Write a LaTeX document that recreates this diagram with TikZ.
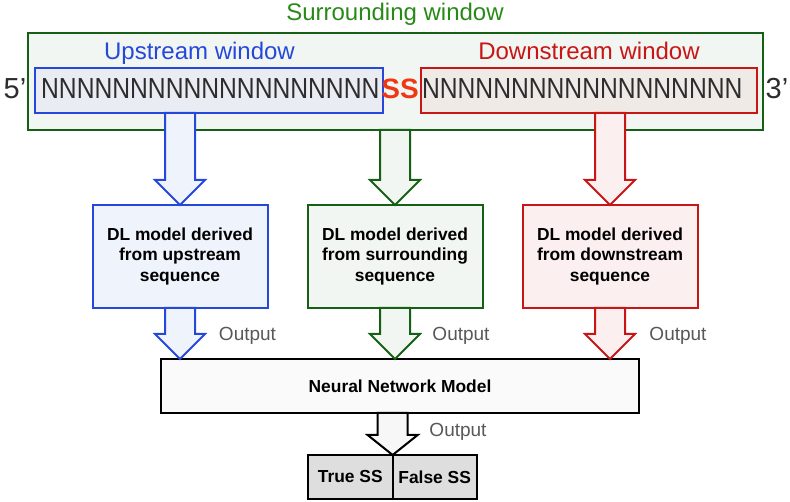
\documentclass[tikz,border=0pt]{standalone}
\usepackage{fontspec}
\usepackage{graphicx}
\usepackage{tikz}
\usepackage{xcolor}
\setmainfont{Liberation Sans}
\usetikzlibrary{positioning,calc}

\definecolor{upblue}{RGB}{38,72,218}
\definecolor{upfill}{RGB}{233,237,243}
\definecolor{upbox}{RGB}{239,243,252}
\definecolor{surgreen}{RGB}{22,96,22}
\definecolor{surtext}{RGB}{40,138,22}
\definecolor{surfill}{RGB}{242,246,242}
\definecolor{downred}{RGB}{200,22,22}
\definecolor{downfill}{RGB}{240,234,231}
\definecolor{downbox}{RGB}{251,240,239}
\definecolor{ssred}{RGB}{240,55,20}
\definecolor{ntext}{RGB}{45,45,45}
\definecolor{outgray}{RGB}{88,88,88}
\definecolor{resfill}{RGB}{222,222,222}

\tikzset{
  winbox/.style={draw,line width=2pt,inner sep=0pt,outer sep=0pt,minimum height=45pt},
  winlbl/.style={anchor=base,inner sep=0pt,font=\fontsize{24}{28}\selectfont},
  dlbox/.style={draw,line width=2pt,inner sep=0pt,outer sep=0pt,minimum width=175pt,minimum height=103pt,
    align=center,font=\fontsize{17.4}{20.7}\selectfont\bfseries},
  seqtxt/.style={inner sep=0pt,text=ntext,font=\fontsize{29}{34}\selectfont},
  outlbl/.style={anchor=base,inner sep=0pt,text=outgray,font=\fontsize{19}{22}\selectfont},
  resbox/.style={draw,line width=2pt,fill=resfill,inner sep=0pt,outer sep=0pt,minimum height=44pt,
    font=\fontsize{17.4}{20.7}\selectfont\bfseries}
}

% fat block arrow: [head length]{style}{start}{tip}
\newcommand{\fatarrow}[4][25]{%
  \filldraw[line width=2pt,#2] ($(#3)+(-15,0)$) -- ($(#4)+(-15,-#1)$) -- ($(#4)+(-25,-#1)$) -- (#4)
    -- ($(#4)+(25,-#1)$) -- ($(#4)+(15,-#1)$) -- ($(#3)+(15,0)$) -- cycle;}

\begin{document}
\begin{tikzpicture}[x=1pt,y=-1pt]
  \useasboundingbox (0,0) rectangle (790,502);

  % sequence windows
  \node (surr) [winbox,draw=surgreen,fill=surfill,minimum width=735pt,minimum height=97pt] at (395.5,81.5) {};
  \node (surlbl) [winlbl,text=surtext] at (395,20.5) {Surrounding window};
  \node (ups) [winbox,draw=upblue,fill=upfill,minimum width=348pt] at (209,90.5) {};
  \node (upslbl) [winlbl,text=upblue] at (199.5,60) {Upstream window};
  \node (downs) [winbox,draw=downred,fill=downfill,minimum width=336pt] at (589,90.5) {};
  \node (downslbl) [winlbl,text=downred] at (589,59.5) {Downstream window};

  \node (upN) [seqtxt,anchor=west] at (41,88.5) {\scalebox{0.85}[1]{NNNNNNNNNNNNNNNNNNN}};
  \node (ss) [right=1.5pt of upN,inner sep=0pt,text=ssred,font=\fontsize{28}{32}\selectfont\bfseries] {SS};
  \node (downN) [seqtxt,right=3pt of ss] {\scalebox{0.85}[1]{NNNNNNNNNNNNNNNNNN}};
  \node (five) [seqtxt] at (15,88.5) {5’};
  \node (three) [seqtxt] at (777,88.5) {3’};

  % models
  \node (dlup) [dlbox,draw=upblue,fill=upbox] at (180,256.5) {DL model derived\\from upstream\\sequence};
  \node (dlsur) [dlbox,draw=surgreen,fill=surfill] at (395,256.5) {DL model derived\\from surrounding\\sequence};
  \node (dldown) [dlbox,draw=downred,fill=downbox] at (610,256.5) {DL model derived\\from downstream\\sequence};
  \node (nn) [draw,line width=2pt,fill=black!2,inner sep=0pt,outer sep=0pt,minimum width=478pt,minimum height=54pt,
    font=\fontsize{17.4}{20.7}\selectfont\bfseries] at (400,386) {Neural Network Model};
  \node (tss) [resbox,minimum width=84.7pt] at (350.3,477) {True SS};
  \node (fss) [resbox,minimum width=84pt,right=0pt of tss] {False SS};

  % block arrows
  \fatarrow{draw=upblue,fill=upbox}{dlup.north |- ups.south}{dlup.north}
  \fatarrow{draw=surgreen,fill=surfill}{dlsur.north |- surr.south}{dlsur.north}
  \fatarrow{draw=downred,fill=downbox}{dldown.north |- downs.south}{dldown.north}
  \fatarrow{draw=upblue,fill=upbox}{dlup.south}{dlup.south |- nn.north}
  \fatarrow{draw=surgreen,fill=surfill}{dlsur.south}{dlsur.south |- nn.north}
  \fatarrow{draw=downred,fill=downbox}{dldown.south}{dldown.south |- nn.north}
  \fatarrow[20]{draw=black,fill=black!3}{tss.north east |- nn.south}{tss.north east}

  \node (out1) [outlbl] at (247.5,340.5) {Output};
  \node (out2) [outlbl] at (461,340.5) {Output};
  \node (out3) [outlbl] at (678,340.5) {Output};
  \node (out4) [outlbl] at (458,437) {Output};
\end{tikzpicture}
\end{document}
